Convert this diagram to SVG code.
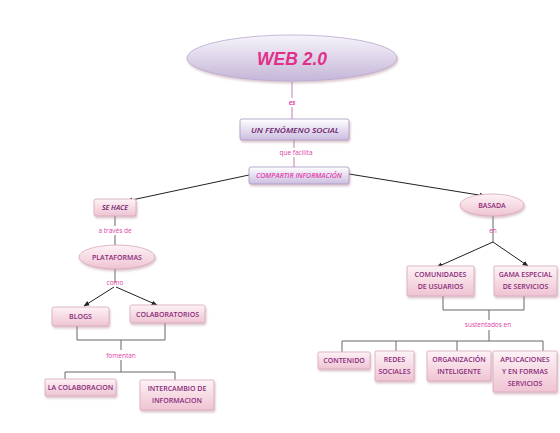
<svg xmlns="http://www.w3.org/2000/svg" width="560" height="433" viewBox="0 0 560 433">
<defs>
<linearGradient id="pink" x1="0" y1="0" x2="0" y2="1">
<stop offset="0" stop-color="#fdf3f6"/><stop offset="1" stop-color="#efc3d3"/>
</linearGradient>
<linearGradient id="lav" x1="0" y1="0" x2="0" y2="1">
<stop offset="0" stop-color="#ffffff"/><stop offset="1" stop-color="#cbbde0"/>
</linearGradient>
<linearGradient id="big" x1="0" y1="0" x2="0" y2="1">
<stop offset="0" stop-color="#f7f4fb"/><stop offset="1" stop-color="#c4b6d8"/>
</linearGradient>
<filter id="sh" x="-20%" y="-30%" width="140%" height="170%">
<feDropShadow dx="1" dy="2" stdDeviation="1.2" flood-color="#b08090" flood-opacity="0.45"/>
</filter>
<marker id="ah" viewBox="0 0 10 10" refX="9" refY="5" markerWidth="6" markerHeight="6" orient="auto">
<path d="M0,1 L10,5 L0,9 z" fill="#222"/>
</marker>
<style>
.box{fill:url(#pink);stroke:#d8a8bb;stroke-width:0.8;filter:url(#sh)}
.lbox{fill:url(#lav);stroke:#a898c0;stroke-width:0.8;filter:url(#sh)}
.t{font-family:"Open Sans","Liberation Sans",sans-serif;font-size:7px;fill:#8a2a7a;text-anchor:middle;font-weight:600}
.lbl{font-family:"Open Sans","Liberation Sans",sans-serif;font-size:6.5px;fill:#e040a8;text-anchor:middle}
.ln{stroke:#666;stroke-width:1;fill:none}
.pl{stroke:#c080b0;stroke-width:1;fill:none}
.ar{stroke:#222;stroke-width:1;fill:none;marker-end:url(#ah)}
</style>
</defs>
<rect width="560" height="433" fill="#ffffff"/>
<g id="connectors">
<line class="pl" x1="292" y1="82" x2="292" y2="119"/>
<line class="pl" x1="294" y1="140" x2="294" y2="167"/>
<line class="ar" x1="249" y1="175" x2="127" y2="201"/>
<line class="ar" x1="349" y1="174" x2="485" y2="196"/>
<line class="ln" x1="115" y1="216" x2="115" y2="245"/>
<line class="ln" x1="115" y1="269" x2="115" y2="283"/>
<line class="ar" x1="114" y1="287" x2="84" y2="306"/>
<line class="ar" x1="116" y1="287" x2="157" y2="305"/>
<polyline class="ln" points="77,326 77,340 165,340 165,323"/>
<line class="ln" x1="121" y1="340" x2="121" y2="372"/>
<polyline class="ln" points="65,379 65,372 175,372 175,380"/>
<line class="ln" x1="493" y1="216" x2="493" y2="242"/>
<line class="ar" x1="493" y1="242" x2="437" y2="267"/>
<line class="ar" x1="493" y1="242" x2="528" y2="266"/>
<polyline class="ln" points="443,296 443,310 524,310 524,296"/>
<line class="ln" x1="489" y1="310" x2="489" y2="341"/>
<polyline class="ln" points="342,352 342,341 543,341 543,351"/>
<line class="ln" x1="396" y1="341" x2="396" y2="351"/>
<line class="ln" x1="457" y1="341" x2="457" y2="351"/>
<rect x="286" y="98" width="12" height="9" fill="#fff"/>
<text x="292" y="105" class="lbl" font-weight="bold" font-style="italic" font-size="7">es</text>
<rect x="278" y="148" width="34" height="9" fill="#fff"/>
<text x="296" y="155" class="lbl">que facilita</text>
<rect x="95" y="226" width="40" height="9" fill="#fff"/>
<text x="115" y="233" class="lbl">a través de</text>
<text x="115" y="285" class="lbl" font-size="5.5">como</text>
<rect x="102" y="350" width="38" height="10" fill="#fff"/>
<text x="121" y="358" class="lbl">fomentan</text>
<text x="493" y="233" class="lbl">en</text>
<rect x="460" y="320" width="56" height="10" fill="#fff"/>
<text x="488" y="327" class="lbl">sustentados en</text>
</g>
<g id="web20">
<ellipse cx="292" cy="58" rx="105" ry="23" fill="url(#big)" stroke="#b8a8d0" stroke-width="0.8" filter="url(#sh)"/>
<text x="292" y="65" font-family="'Liberation Sans',sans-serif" font-size="19" font-weight="bold" font-style="italic" fill="#e0308a" text-anchor="middle" textLength="70" lengthAdjust="spacingAndGlyphs">WEB 2.0</text>
</g>
<g id="fenomeno">
<rect class="lbox" x="240" y="119" width="109" height="21" rx="2"/>
<text x="295" y="133" class="t" font-size="9.5" font-style="italic" font-weight="bold" style="fill:#6a1a6a" textLength="88" lengthAdjust="spacingAndGlyphs">UN FENÓMENO SOCIAL</text>
</g>
<g id="compartir">
<rect class="lbox" x="249" y="167" width="100" height="17" rx="2"/>
<text x="299" y="178" class="t" font-style="italic" style="fill:#e040a8">COMPARTIR INFORMACIÓN</text>
</g>
<g id="sehace">
<rect class="box" x="94" y="199" width="42" height="17" rx="2"/>
<text x="115" y="210" class="t" font-style="italic" font-weight="bold" style="fill:#6a1a6a">SE HACE</text>
</g>
<g id="basada">
<ellipse cx="492" cy="205" rx="32" ry="11" fill="url(#pink)" stroke="#d8a8bb" stroke-width="0.8" filter="url(#sh)"/>
<text x="492" y="208" class="t" font-weight="normal">BASADA</text>
</g>
<g id="plataformas">
<ellipse cx="117" cy="257" rx="38" ry="12" fill="url(#pink)" stroke="#d8a8bb" stroke-width="0.8" filter="url(#sh)"/>
<text x="117" y="260" class="t">PLATAFORMAS</text>
</g>
<g id="blogs">
<rect class="box" x="52" y="307" width="57" height="19" rx="2"/>
<text x="80.5" y="319" class="t">BLOGS</text>
</g>
<g id="colaboratorios">
<rect class="box" x="130" y="305" width="75" height="18" rx="2"/>
<text x="167.5" y="316.5" class="t">COLABORATORIOS</text>
</g>
<g id="lacolaboracion">
<rect class="box" x="45" y="379" width="71" height="17" rx="1"/>
<text x="80.5" y="390" class="t">LA COLABORACION</text>
</g>
<g id="intercambio">
<rect class="box" x="140" y="380" width="74" height="30" rx="1"/>
<text x="177" y="391" class="t">INTERCAMBIO DE</text>
<text x="177" y="403" class="t">INFORMACION</text>
</g>
<g id="comunidades">
<rect class="box" x="407" y="266" width="67" height="30" rx="1"/>
<text x="440.5" y="277" class="t">COMUNIDADES</text>
<text x="440.5" y="289" class="t">DE USUARIOS</text>
</g>
<g id="gama">
<rect class="box" x="494" y="266" width="63" height="30" rx="1"/>
<text x="525.5" y="277" class="t">GAMA ESPECIAL</text>
<text x="525.5" y="289" class="t">DE SERVICIOS</text>
</g>
<g id="contenido">
<rect class="box" x="318" y="352" width="52" height="17" rx="1"/>
<text x="344" y="363" class="t">CONTENIDO</text>
</g>
<g id="redes">
<rect class="box" x="375" y="351" width="39" height="30" rx="1"/>
<text x="394.5" y="362" class="t">REDES</text>
<text x="394.5" y="374" class="t">SOCIALES</text>
</g>
<g id="organizacion">
<rect class="box" x="427" y="351" width="64" height="30" rx="1"/>
<text x="459" y="362" class="t">ORGANIZACIÓN</text>
<text x="459" y="374" class="t">INTELIGENTE</text>
</g>
<g id="aplicaciones">
<rect class="box" x="493" y="351" width="64" height="41" rx="1"/>
<text x="525" y="362" class="t">APLICACIONES</text>
<text x="525" y="374" class="t">Y EN FORMAS</text>
<text x="525" y="386" class="t">SERVICIOS</text>
</g>
</svg>
